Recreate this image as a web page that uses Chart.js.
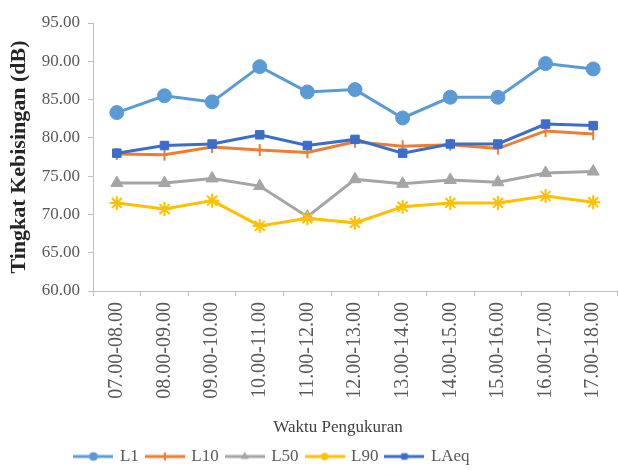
<!DOCTYPE html>
<html>
<head>
<meta charset="utf-8">
<script src="https://cdn.jsdelivr.net/npm/chart.js@4/dist/chart.umd.min.js"></script>
<style>
html,body{margin:0;padding:0;background:#fff;}
#wrap{width:618px;height:470px;position:relative;}
</style>
</head>
<body>
<div id="wrap"><canvas id="c" width="618" height="470"></canvas></div>
<script>
const categories = ["07.00-08.00","08.00-09.00","09.00-10.00","10.00-11.00","11.00-12.00","12.00-13.00","13.00-14.00","14.00-15.00","15.00-16.00","16.00-17.00","17.00-18.00"];
const L1   = [83.3, 85.5, 84.7, 89.3, 86.0, 86.3, 82.6, 85.3, 85.3, 89.7, 89.0];
const L10  = [77.9, 77.8, 78.8, 78.4, 78.1, 79.5, 78.9, 79.1, 78.6, 80.9, 80.5];
const L50  = [74.1, 74.1, 74.7, 73.7, 69.7, 74.6, 74.0, 74.5, 74.2, 75.4, 75.6];
const L90  = [71.5, 70.7, 71.8, 68.5, 69.5, 68.9, 71.0, 71.5, 71.5, 72.4, 71.6];
const LAeq = [78.0, 79.0, 79.2, 80.4, 79.0, 79.8, 78.0, 79.2, 79.2, 81.8, 81.6];
const yTicks = [60, 65, 70, 75, 80, 85, 90, 95];
const seriesNames = ["L1","L10","L50","L90","LAeq"];

const colors = ["#5B9BD5","#ED7D31","#A5A5A5","#FFC000","#3C6DC8"];
const styles = ["circle","line","triangle","star","rect"];
const radii = [7,6,7,7,6];
const values = [L1,L10,L50,L90,LAeq];
const serif = "'Liberation Serif','Times New Roman',serif";

function legendIcon(i){
  const cv=document.createElement('canvas');
  cv.width=40; cv.height=16;
  const g=cv.getContext('2d');
  g.strokeStyle=colors[i]; g.fillStyle=colors[i]; g.lineWidth=3;
  g.beginPath(); g.moveTo(0,8); g.lineTo(40,8); g.stroke();
  g.lineWidth=styles[i]==='line'||styles[i]==='star'?2:1;
  Chart.helpers.drawPoint(g,{pointStyle:styles[i],radius:4,rotation:styles[i]==='line'?90:0,borderWidth:g.lineWidth},20,8);
  return cv;
}

const shiftLegend = {
  id:'shiftLegend',
  afterLayout(chart){
    const lg = chart.legend;
    if(lg){ lg.left -= 36; lg.right -= 36; }
  }
};

const datasets = seriesNames.map((n,i)=>({
  label:n,
  data:values[i],
  borderColor:colors[i],
  backgroundColor:colors[i],
  borderWidth:3,
  pointStyle:styles[i],
  pointRadius:radii[i],
  pointRotation:styles[i]==='line'?90:0,
  pointBorderWidth:styles[i]==='line'||styles[i]==='star'?2:1,
  pointBackgroundColor:colors[i],
  pointBorderColor:colors[i],
  order: i===4?0:5-i,
  tension:0,
  clip:false
}));

new Chart(document.getElementById('c'),{
  type:'line',
  data:{labels:categories,datasets},
  plugins:[shiftLegend],
  options:{
    responsive:false,
    animation:false,
    layout:{autoPadding:false,padding:{top:23,right:1,left:0,bottom:-5}},
    plugins:{
      tooltip:{enabled:false},
      legend:{
        position:'bottom',
        labels:{
          usePointStyle:true,
          pointStyleWidth:36,
          boxHeight:16,
          padding:8,
          color:'#595959',
          font:{family:serif,size:17},
          generateLabels:(chart)=>chart.data.datasets.map((d,i)=>({
            text:d.label,
            pointStyle:legendIcon(i),
            fillStyle:colors[i],
            strokeStyle:colors[i],
            lineWidth:0,
            fontColor:'#595959',
            hidden:false,
            datasetIndex:i
          }))
        }
      }
    },
    scales:{
      x:{
        offset:true,
        afterFit:(s)=>{s.height=149; s.paddingLeft=0; s.paddingRight=0;},
        grid:{display:true,drawOnChartArea:false,offset:true,tickLength:5,color:'#BFBFBF'},
        border:{color:'#BFBFBF',width:1},
        ticks:{maxRotation:90,minRotation:90,autoSkip:false,padding:6,color:'#595959',font:{family:serif,size:20}},
        title:{display:true,text:'Waktu Pengukuran\u00A0\u00A0\u00A0\u00A0\u00A0\u00A0\u00A0\u00A0',color:'#404040',font:{family:serif,size:17},padding:{top:2,bottom:2}}
      },
      y:{
        min:60,max:95,
        afterFit:(s)=>{s.width=93;},
        afterBuildTicks:(s)=>{s.ticks=yTicks.map(v=>({value:v}));},
        grid:{display:true,drawOnChartArea:false,tickLength:5,color:'#BFBFBF'},
        border:{color:'#BFBFBF',width:1},
        ticks:{padding:8,color:'#595959',font:{family:serif,size:17},callback:(v)=>Number(v).toFixed(2)},
        title:{display:true,text:'Tingkat Kebisingan (dB)',color:'#262626',font:{family:serif,size:22,weight:'bold'},padding:{top:6,bottom:0}}
      }
    }
  }
});
</script>
</body>
</html>
